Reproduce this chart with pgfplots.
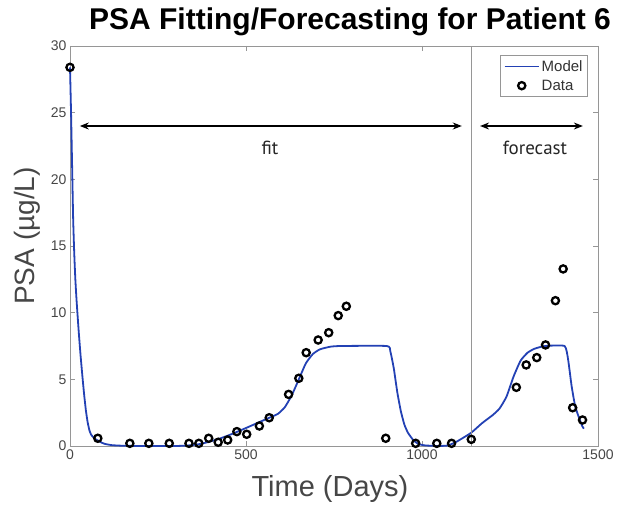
\documentclass[border=0pt]{standalone}
\usepackage{fontspec}
\setmainfont{Liberation Sans}
\newfontfamily\myriad{PT Sans}
\usepackage{pgfplots}
\pgfplotsset{compat=1.18}
\usetikzlibrary{arrows.meta}
\definecolor{modelblue}{RGB}{35,65,180}
\definecolor{axgray}{RGB}{150,150,150}
\definecolor{labgray}{RGB}{70,70,70}
\pgfplotsset{
  longline legend/.style={legend image code/.code={\draw[modelblue, line width=1.8pt] (0cm,0cm) -- (1.2cm,0cm);}},
  centermark legend/.style={legend image code/.code={\draw[black, line width=2.3pt] (0.6cm,0cm) circle (3.6pt);}},
}
\begin{document}
\begin{tikzpicture}
\useasboundingbox (-70pt,-58pt) rectangle (548pt,446pt);
\begin{axis}[
  scale only axis, width=528pt, height=400pt,
  xmin=0, xmax=1500, ymin=0, ymax=30,
  xtick={0,500,1000,1500}, ytick={0,5,10,15,20,25,30},
  tick align=inside, major tick length=5pt,
  axis line style={axgray, line width=0.9pt},
  tick style={axgray, line width=0.8pt},
  ticklabel style={font=\fontsize{14}{16}\selectfont, text=labgray},
  /pgf/number format/assume math mode=true,
  /pgf/number format/1000 sep={},
  clip=false,
  legend style={at={(0.981,0.9775)}, anchor=north east, draw=axgray, line width=0.8pt,
    font=\fontsize{15}{17}\selectfont, text=black!80, row sep=3pt, inner xsep=3pt, inner ysep=3pt},
  legend cell align=left,
]
\addplot[modelblue, line width=1.8pt, smooth, tension=0.3, longline legend] coordinates {
(0,28.4) (3,25.0) (6,21.0) (9,17.0) (12,14.5) (15,12.6) (18,11.2) (21,10.0)
(25,8.5) (30,6.8) (35,5.3) (40,3.9) (45,2.7) (50,1.8) (55,1.2) (60,0.85)
(70,0.55) (80,0.4) (90,0.25) (100,0.15) (120,0.06) (150,0.02) (200,0.0)
(300,0.0) (340,0.05) (370,0.15) (400,0.35) (430,0.6) (460,0.9) (500,1.35)
(530,1.7) (560,2.05) (590,2.4) (610,2.9) (630,3.8) (650,5.0) (670,6.2)
(690,6.9) (710,7.25) (740,7.45) (770,7.5) (900,7.5) (910,7.1) (920,5.8)
(930,4.0) (940,2.6) (950,1.6) (960,1.0) (975,0.45) (990,0.15) (1010,0.04)
(1050,0.0) (1075,0.05) (1100,0.35) (1140,1.0) (1170,1.7) (1200,2.3)
(1220,2.8) (1240,3.7) (1260,5.2) (1280,6.4) (1300,7.0) (1320,7.3)
(1350,7.5) (1405,7.5) (1415,6.5) (1425,4.5) (1435,3.0) (1445,2.2)
(1455,1.5) (1460,1.3)
};
\addlegendentry{Model}
\addplot[only marks, mark=o, mark size=3.6pt, mark options={black, line width=2.3pt}, centermark legend] coordinates {
(0,28.4) (79,0.58) (170,0.2) (224,0.2) (282,0.2) (338,0.2) (366,0.2)
(394,0.58) (421,0.28) (448,0.45) (474,1.08) (502,0.88) (538,1.5) (566,2.12)
(621,3.87) (650,5.08) (671,7.0) (705,7.95) (735,8.5) (762,9.78) (785,10.48)
(897,0.58) (982,0.2) (1042,0.2) (1084,0.2) (1140,0.5) (1268,4.4) (1296,6.08)
(1326,6.63) (1351,7.58) (1379,10.9) (1401,13.28) (1428,2.87) (1456,1.95)
};
\addlegendentry{Data}
\draw[axgray, line width=1.4pt] (axis cs:1140,0) -- (axis cs:1140,30);
\draw[black, line width=1.1pt, {Stealth[length=9pt,width=7pt]}-{Stealth[length=9pt,width=7pt]}]
  (axis cs:28,24) -- (axis cs:1113,24);
\draw[black, line width=1.1pt, {Stealth[length=9pt,width=7pt]}-{Stealth[length=9pt,width=7pt]}]
  (axis cs:1165,24) -- (axis cs:1457,24);
\node[font=\myriad\fontsize{19}{21}\selectfont, text=black!85] at (axis cs:568,22.35) {fit};
\node[font=\myriad\fontsize{19}{21}\selectfont, text=black!85] at (axis cs:1321,22.35) {forecast};
\end{axis}
\node[anchor=base, font=\bfseries\fontsize{30}{32}\selectfont] at (280pt,416pt) {PSA Fitting/Forecasting for Patient 6};
\node[anchor=base, font=\fontsize{29}{32}\selectfont, text=labgray] at (260pt,-50.7pt) {Time (Days)};
\node[anchor=base, rotate=90, font=\fontsize{28}{32}\selectfont, text=labgray] at (-35pt,210pt) {PSA (µg/L)};
\end{tikzpicture}
\end{document}
